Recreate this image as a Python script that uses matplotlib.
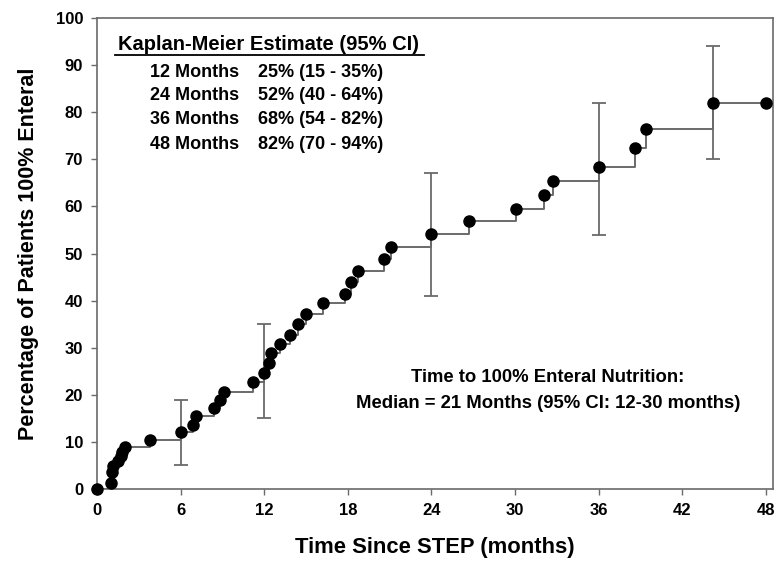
import numpy as np
import matplotlib
matplotlib.use('Agg')
import matplotlib.pyplot as plt

plt.rcParams['font.family'] = ['Liberation Sans', 'DejaVu Sans']
plt.rcParams['font.weight'] = 'bold'

# event times (months) and cumulative percentage reaching 100% enteral
months = [0, 1.0, 1.1, 1.15, 1.5, 1.7, 1.8, 2.0, 3.8, 6.0, 6.9, 7.1, 8.4, 8.8, 9.1,
          11.2, 12.0, 12.35, 12.5, 13.1, 13.85, 14.4, 15.0, 16.2, 17.8, 18.2, 18.7,
          20.6, 21.1, 24.0, 26.7, 30.1, 32.1, 32.7, 36.0, 38.6, 39.4, 44.2, 48.0]
percent = [0, 1.2, 3.7, 4.9, 6.0, 7.0, 7.9, 9.0, 10.4, 12.0, 13.6, 15.5, 17.1, 19.0, 20.7,
           22.8, 24.7, 26.7, 28.8, 30.8, 32.8, 35.0, 37.2, 39.4, 41.5, 44.0, 46.3,
           48.8, 51.3, 54.1, 56.8, 59.5, 62.4, 65.4, 68.4, 72.4, 76.4, 82.0, 82.0]

# confidence intervals drawn on the curve
ci_months = [6, 12, 24, 36, 44.2]
ci_lower = [5, 15, 41, 54, 70]
ci_upper = [19, 35, 67, 82, 94]

km_rows = [('12 Months', '25% (15 - 35%)'),
           ('24 Months', '52% (40 - 64%)'),
           ('36 Months', '68% (54 - 82%)'),
           ('48 Months', '82% (70 - 94%)')]

xticks = list(range(0, 49, 6))
yticks = list(range(0, 101, 10))

grey = '#6a6a6a'

fig = plt.figure(figsize=(7.78, 5.68), dpi=100)
ax = fig.add_axes([97 / 778, 1 - 489 / 568, (772.7 - 97) / 778, (489 - 18) / 568])

ax.step(months, percent, where='post', color=grey, lw=1.4, zorder=2)
ax.plot(months, percent, 'o', color='black', ms=8, clip_on=False, zorder=3)

lo = np.array(ci_lower)
hi = np.array(ci_upper)
ax.errorbar(ci_months, (lo + hi) / 2, yerr=(hi - lo) / 2, fmt='none',
            ecolor=grey, elinewidth=1.3, capsize=5, capthick=1.3, zorder=1)

ax.set_xlim(0, 48.5)
ax.set_ylim(0, 100)
ax.set_xticks(xticks)
ax.set_yticks(yticks)
ax.tick_params(direction='out', length=4, width=1, color=grey, labelsize=12, pad=6)
for lab in ax.get_xticklabels() + ax.get_yticklabels():
    lab.set_fontweight('bold')
for sp in ax.spines.values():
    sp.set_color(grey)
    sp.set_linewidth(1.2)

ax.set_xlabel('Time Since STEP (months)', fontsize=15.8, fontweight='bold', labelpad=14)
ax.set_ylabel('Percentage of Patients 100% Enteral', fontsize=15.5, fontweight='bold', labelpad=12)

# Kaplan-Meier summary box (figure pixel coords)
def fx(px):
    return px / 778

def fy(py):
    return 1 - py / 568

fig.text(fx(269), fy(45), 'Kaplan-Meier Estimate (95% CI)', ha='center', va='center',
         fontsize=14.5, fontweight='bold')
fig.add_artist(plt.Line2D([fx(115), fx(424)], [fy(55), fy(55)], color='black', lw=1.3))
row_y = [72, 96, 120, 145]
for (m, v), y in zip(km_rows, row_y):
    fig.text(fx(150), fy(y), m, ha='left', va='center', fontsize=13, fontweight='bold')
    fig.text(fx(258), fy(y), v, ha='left', va='center', fontsize=13, fontweight='bold')

fig.text(fx(548), fy(378), 'Time to 100% Enteral Nutrition:', ha='center', va='center',
         fontsize=13.3, fontweight='bold')
fig.text(fx(548), fy(404), 'Median = 21 Months (95% CI: 12-30 months)', ha='center',
         va='center', fontsize=13.3, fontweight='bold')

fig.savefig('out.png', dpi=100)
